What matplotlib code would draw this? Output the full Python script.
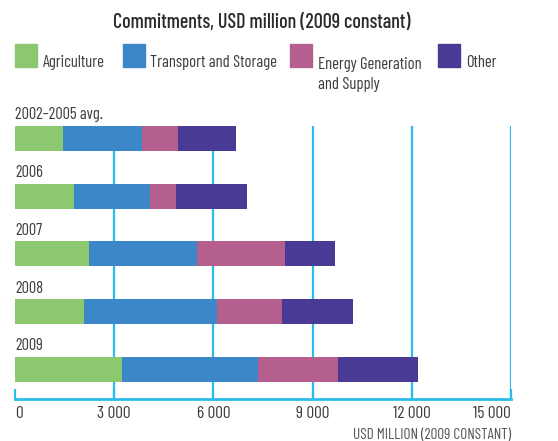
import numpy as np
import matplotlib
matplotlib.use('Agg')
import matplotlib.pyplot as plt
from matplotlib.patches import Rectangle

plt.rcParams['font.family'] = ['Barlow Condensed', 'DejaVu Sans']

categories = ['2002–2005 avg.', '2006', '2007', '2008', '2009']
series = ['Agriculture', 'Transport and Storage', 'Energy Generation\nand Supply', 'Other']
agriculture = [1440, 1780, 2240, 2100, 3230]
transport = [2410, 2300, 3260, 4010, 4120]
energy = [1080, 790, 2660, 1970, 2420]
other = [1750, 2160, 1530, 2150, 2410]
xticks = [0, 3000, 6000, 9000, 12000, 15000]
xticklabels = ['0', '3\u2009000', '6\u2009000', '9\u2009000', '12\u2009000', '15\u2009000']

colors = ['#8cc86f', '#3c87c8', '#b45f8e', '#483a95']
grid_c = '#2bbcee'
text_c = '#3c3c3c'
H = 441.0
W = 558.0

fig = plt.figure(figsize=(5.58, 4.41), dpi=100)
ax = fig.add_axes([15 / W, 1 - 399 / H, 496 / W, 273 / H])

y = np.arange(len(categories))
left = np.zeros(len(categories))
for vals, c, name in zip([agriculture, transport, energy, other], colors, series):
    ax.barh(y, vals, left=left, height=0.43, color=c, label=name, zorder=3)
    left += np.array(vals)

ax.set_xlim(0, 15000)
ax.set_ylim(4.514, -0.215)

# grid lines (none at 0)
ax.vlines(xticks[1:], 0, 1, transform=ax.get_xaxis_transform(), color=grid_c, lw=1.6, zorder=1)

for s in ['top', 'left', 'right']:
    ax.spines[s].set_visible(False)
ax.spines['bottom'].set_color(grid_c)
ax.spines['bottom'].set_linewidth(2)
ax.set_yticks([])
ax.set_xticks(xticks)
ax.set_xticklabels(xticklabels, fontsize=12.5, color=text_c)
ax.tick_params(axis='x', direction='in', length=7, width=1.6, color=grid_c, pad=5)
ax.get_xticklabels()[0].set_horizontalalignment('left')
ax.get_xticklabels()[-1].set_horizontalalignment('right')

for i, cat in enumerate(categories):
    ax.text(0, i - 0.33, cat, ha='left', va='baseline', fontsize=11.8, color=text_c, clip_on=False)

fig.text(511 / W, 1 - 439 / H, 'USD MILLION (2009 CONSTANT)', ha='right', va='baseline',
         fontsize=11, color='#555555')

fig.text(262 / W, 1 - 28.3 / H, 'Commitments, USD million (2009 constant)', ha='center', va='baseline',
         fontsize=14.5, fontweight='medium', color='#2a2a2a')

# legend
leg_x = [15, 122.5, 290, 438]
for lx, c, name in zip(leg_x, colors, series):
    fig.patches.append(Rectangle((lx / W, 1 - 66.7 / H), 22 / W, 22.5 / H,
                                 transform=fig.transFigure, color=c))
    n = name.count('\n')
    fig.text((lx + 28) / W, 1 - (66.7 + n * 22.7) / H, name, ha='left', va='baseline', fontsize=12,
             color=text_c, linespacing=1.42)

fig.savefig('out.png', dpi=100)
